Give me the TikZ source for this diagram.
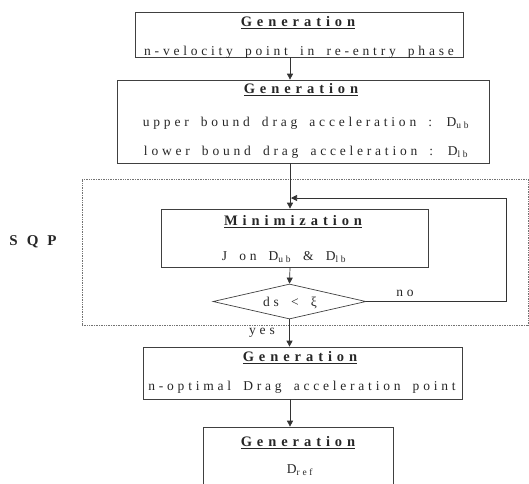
\documentclass[tikz,border=0pt]{standalone}
\usepackage{fontspec}
\setmainfont{Liberation Serif}
\newfontfamily\spc[LetterSpace=28,WordSpace=1.7]{Liberation Serif}
\newfontfamily\spcb[LetterSpace=34]{Liberation Serif}
\newfontfamily\spcq[LetterSpace=60]{Liberation Serif}
\usetikzlibrary{arrows.meta,shapes.geometric}
\begin{document}
\begin{tikzpicture}[x=1pt,y=-1pt,
  box/.style={draw=black!75,line width=0.7pt,inner sep=0pt},
  gen/.style={inner sep=0pt,text=black!85,font=\spcb\fontsize{14.5}{16}\selectfont\bfseries},
  txt/.style={inner sep=0pt,text=black!85,font=\spc\fontsize{13.5}{15}\selectfont},
  arr/.style={draw=black!80,line width=0.7pt,-{Triangle[length=6pt,width=6pt]}},
  sqpbox/.style={draw=black!55,line width=0.7pt,densely dotted}]
\useasboundingbox (0,0) rectangle (529,483);
\coordinate (ax) at (290,0);
% SQP frame
\node[sqpbox,minimum width=446pt,minimum height=146pt,inner sep=0pt] (sqp) at (305,252) {};
\node[inner sep=0pt,text=black!85,font=\spcq\fontsize{15}{17}\selectfont\bfseries] (sqpl) at (33,242) {SQP};
% box 1
\node[box,minimum width=328pt,minimum height=45pt] (b1) at (299,34.5) {};
\node[gen] (b1g) at (298,23) {\underline{Generation}};
\node[txt] (b1t) at (299,52) {n-velocity point in re-entry phase};
% box 2
\node[box,minimum width=372pt,minimum height=83pt] (b2) at (303,121.5) {};
\node[gen] (b2g) at (301,90) {\underline{Generation}};
\node[txt] (b2u) at (306,123) {upper bound drag acceleration : D\textsubscript{ub}};
\node[txt] (b2l) at (306,152) {lower bound drag acceleration : D\textsubscript{lb}};
% minimization
\node[box,minimum width=267pt,minimum height=58pt] (m) at (294.5,238) {};
\node[gen] (mg) at (293,222) {\underline{Minimization}};
\node[txt] (mt) at (284,257) {J on D\textsubscript{ub} \& D\textsubscript{lb}};
% diamond
\node[diamond,draw=black!75,line width=0.7pt,minimum width=153pt,minimum height=35pt,inner sep=0pt,aspect=4.4] (d) at (289.5,301.5) {};
\node[txt] (dt) at (290,303) {ds < ξ};
% box 5
\node[box,minimum width=319pt,minimum height=52pt] (b5) at (302.5,373) {};
\node[gen] (b5g) at (300,358) {\underline{Generation}};
\node[txt] (b5t) at (302,387) {n-optimal Drag acceleration point};
% box 6
\node[box,minimum width=190pt,minimum height=80pt] (b6) at (298,467) {};
\node[gen] (b6g) at (298,443) {\underline{Generation}};
\node[txt] (b6t) at (300,470) {D\textsubscript{ref}};
% connectors
\draw[arr] (b1.south -| ax) -- (b2.north -| ax);
\draw[arr] (b2.south -| ax) -- (m.north -| ax);
\draw[arr] (m.south -| ax) -- (d.north);
\draw[arr] (d.south) -- (b5.north -| d.south);
\draw[arr] (b5.south -| ax) -- (b6.north -| ax);
\coordinate (fbr) at (506,198);
\coordinate (fbend) at (291,198);
\draw[arr] (d.east) -- (d.east -| fbr) -- (fbr) -- (fbend);
\node[txt] (no) at (405,293) {no};
\node[txt] (yes) at (262,333) {yes};
\end{tikzpicture}
\end{document}
